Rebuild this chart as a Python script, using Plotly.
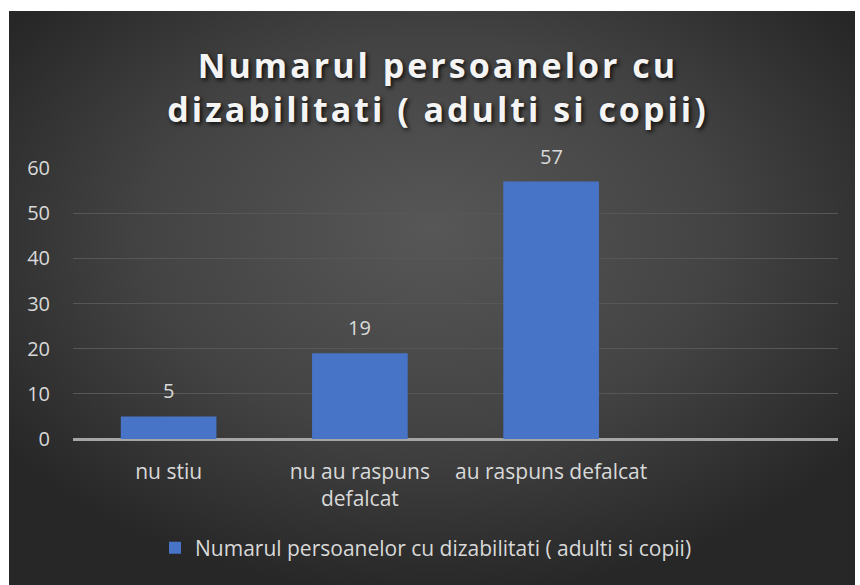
import base64
import plotly.graph_objects as go

categories = ["nu stiu", "nu au raspuns<br>defalcat", "au raspuns defalcat", " "]
values = [5, 19, 57, None]
value_labels = ["5", "19", "57", ""]
series_name = "Numarul persoanelor cu dizabilitati ( adulti si copii)"
title_text = "Numarul persoanelor cu<br>dizabilitati ( adulti si copii)"
y_ticks = [0, 10, 20, 30, 40, 50, 60]

W, H = 860, 585
L, R, T, B = 73, 22, 168, 146
pw, ph = W - L - R, H - T - B
FONT = "Open Sans"
TXT = "#d9d9d9"

svg = '''<svg xmlns="http://www.w3.org/2000/svg" width="846" height="574" viewBox="0 0 846 574" preserveAspectRatio="none">
<defs><radialGradient id="g" cx="50%" cy="40%" r="62%" fx="50%" fy="38%">
<stop offset="0" stop-color="#575757"/><stop offset="0.55" stop-color="#434343"/><stop offset="1" stop-color="#272727"/>
</radialGradient></defs>
<rect width="846" height="574" fill="url(#g)"/></svg>'''
src = "data:image/svg+xml;base64," + base64.b64encode(svg.encode()).decode()


def px_x(x):
    return (x - L) / pw


def px_y(y):
    return (H - B - y) / ph


fig = go.Figure()
fig.add_trace(go.Bar(
    x=categories, y=values, name=series_name,
    marker=dict(color="#4874c8", line=dict(width=0)),
    showlegend=True,
))

for c, v, t in zip(categories, values, value_labels):
    if v is None:
        continue
    fig.add_annotation(x=c, y=v, text=t, showarrow=False, yanchor="bottom",
                       yshift=10, font=dict(family=FONT, size=20, color=TXT))

fig.update_layout(
    width=W, height=H,
    margin=dict(l=L, r=R, t=T, b=B),
    paper_bgcolor="white",
    plot_bgcolor="rgba(0,0,0,0)",
    bargap=0.5,
    title=dict(
        text=title_text, x=438 / W, xanchor="center", xref="container",
        y=1 - 78 / H, yanchor="middle", yref="container",
        font=dict(family=FONT, size=34, color="#f4f4f4", weight="bold",
                  shadow="2px 2px 4px rgba(0,0,0,0.8)"),
    ),
    font=dict(family=FONT, size=20, color=TXT),
    images=[dict(
        source=src, xref="paper", yref="paper",
        x=px_x(9), y=px_y(11), sizex=(855 - 9) / pw, sizey=(585 - 11) / ph,
        xanchor="left", yanchor="top", sizing="stretch", layer="below",
    )],
    legend=dict(
        orientation="h", x=px_x(426), xanchor="center", y=px_y(548), yanchor="middle",
        font=dict(family=FONT, size=21, color=TXT),
        bgcolor="rgba(0,0,0,0)", itemwidth=30,
    ),
    xaxis=dict(
        showgrid=False, zeroline=False, showline=False,
        ticks="", tickfont=dict(family=FONT, size=21, color=TXT),
        ticklabelstandoff=18,
    ),
    yaxis=dict(
        range=[0, 60], tickvals=y_ticks, showgrid=True,
        gridcolor="#575757", gridwidth=1,
        zeroline=True, zerolinecolor="#a6a6a6", zerolinewidth=3,
        showline=False, ticks="",
        tickfont=dict(family=FONT, size=20, color=TXT),
        ticklabelstandoff=22,
    ),
)

post = """
document.body.style.margin = '0';
document.querySelectorAll('.gtitle').forEach(function(e){ e.style.letterSpacing = '3px'; });
"""
fig.write_html("out.html", post_script=post, config={"displayModeBar": False})
